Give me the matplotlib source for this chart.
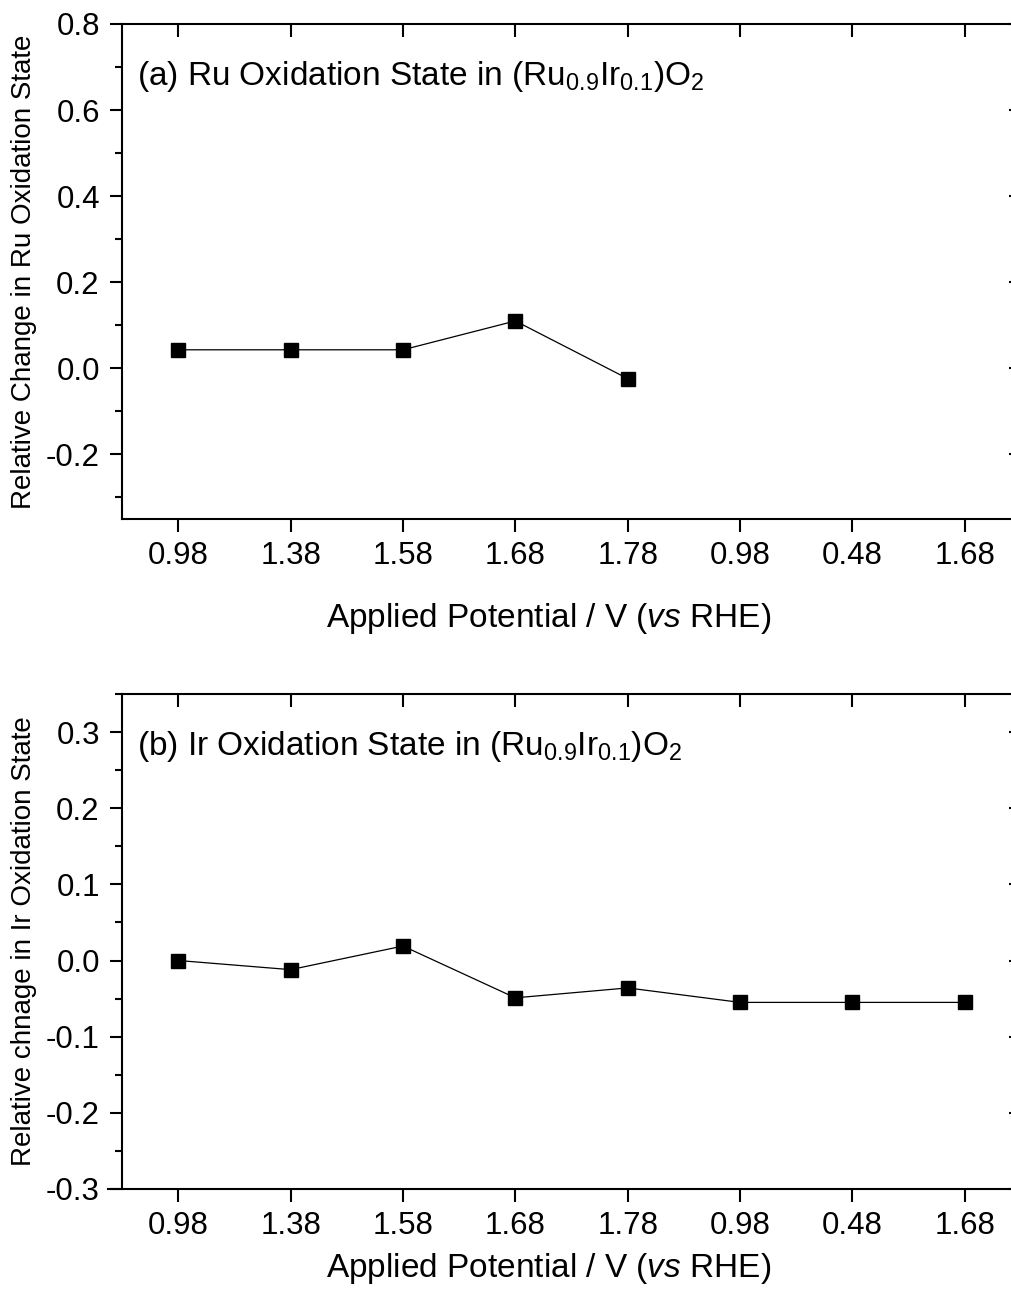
"""Relative change in Ru / Ir oxidation state vs applied potential."""
import matplotlib
matplotlib.use("Agg")
import matplotlib.pyplot as plt
from matplotlib.ticker import MultipleLocator

plt.rcParams["font.family"] = ["Liberation Sans", "DejaVu Sans"]
plt.rcParams["mathtext.fontset"] = "custom"
plt.rcParams["mathtext.rm"] = "Liberation Sans"
plt.rcParams["mathtext.it"] = "Liberation Sans:italic"

# data
potentials = ["0.98", "1.38", "1.58", "1.68", "1.78", "0.98", "0.48", "1.68"]
ru_change = [0.043, 0.043, 0.043, 0.110, -0.024]
ir_change = [0.0, -0.012, 0.019, -0.049, -0.036, -0.055, -0.055, -0.055]

xlabel = r"Applied Potential / V ($\mathit{vs}$ RHE)"
titles = [r"(a) Ru Oxidation State in (Ru$_{0.9}$Ir$_{0.1}$)O$_2$",
          r"(b) Ir Oxidation State in (Ru$_{0.9}$Ir$_{0.1}$)O$_2$"]
ylabels = ["Relative Change in Ru Oxidation State",
           "Relative chnage in Ir Oxidation State"]


def style_axes(ax, ylim, major, minor, xlabel_y):
    ax.set_xlim(0.5, len(potentials) + 0.5)
    ax.set_ylim(*ylim)
    ax.set_xticks(range(1, len(potentials) + 1))
    ax.set_xticklabels(potentials)
    ax.yaxis.set_major_locator(MultipleLocator(major))
    ax.yaxis.set_minor_locator(MultipleLocator(minor))
    ax.yaxis.set_major_formatter(plt.FuncFormatter(lambda v, p: f"{v:.1f}"))
    for s in ax.spines.values():
        s.set_linewidth(1.5)
    ax.spines["right"].set_visible(False)
    ax.tick_params(axis="both", which="major", direction="out", length=9,
                   width=1.5, labelsize=22.5, pad=7)
    ax.tick_params(axis="y", which="minor", direction="out", length=5, width=1.5)
    ax.tick_params(axis="x", which="minor", bottom=False, top=False)
    sec_x = ax.secondary_xaxis("top")
    sec_x.set_xticks(range(1, len(potentials) + 1))
    sec_x.tick_params(direction="in", length=9, width=1.5, labeltop=False)
    sec_x.spines["top"].set_visible(False)
    sec_y = ax.secondary_yaxis("right")
    sec_y.yaxis.set_major_locator(MultipleLocator(major))
    sec_y.tick_params(direction="in", length=9, width=1.5, labelright=False)
    sec_y.spines["right"].set_visible(False)
    ax.set_xlabel(xlabel, fontsize=24)
    ax.xaxis.set_label_coords(0.475, xlabel_y)


fig = plt.figure(figsize=(10.12, 13.01), dpi=100)
ax1 = fig.add_axes([0.1206, 0.6011, 0.8883, 0.3805])
ax2 = fig.add_axes([0.1206, 0.0861, 0.8883, 0.3805])

ax1.plot(range(1, len(ru_change) + 1), ru_change, color="black", lw=0.9,
         marker="s", markersize=10.5)
style_axes(ax1, (-0.35, 0.8), 0.2, 0.1, -0.165)

ax2.plot(range(1, len(ir_change) + 1), ir_change, color="black", lw=0.9,
         marker="s", markersize=10.5)
style_axes(ax2, (-0.3, 0.35), 0.1, 0.05, -0.125)
ax2.spines["bottom"].set_bounds(0.375, len(potentials) + 0.5)

for ax, title, ylab in zip([ax1, ax2], titles, ylabels):
    ax.text(0.017, 0.893, title, transform=ax.transAxes, fontsize=24,
            ha="left", va="center")
    ax.set_ylabel(ylab, fontsize=20, labelpad=6)

fig.savefig("out.png", dpi=100)
